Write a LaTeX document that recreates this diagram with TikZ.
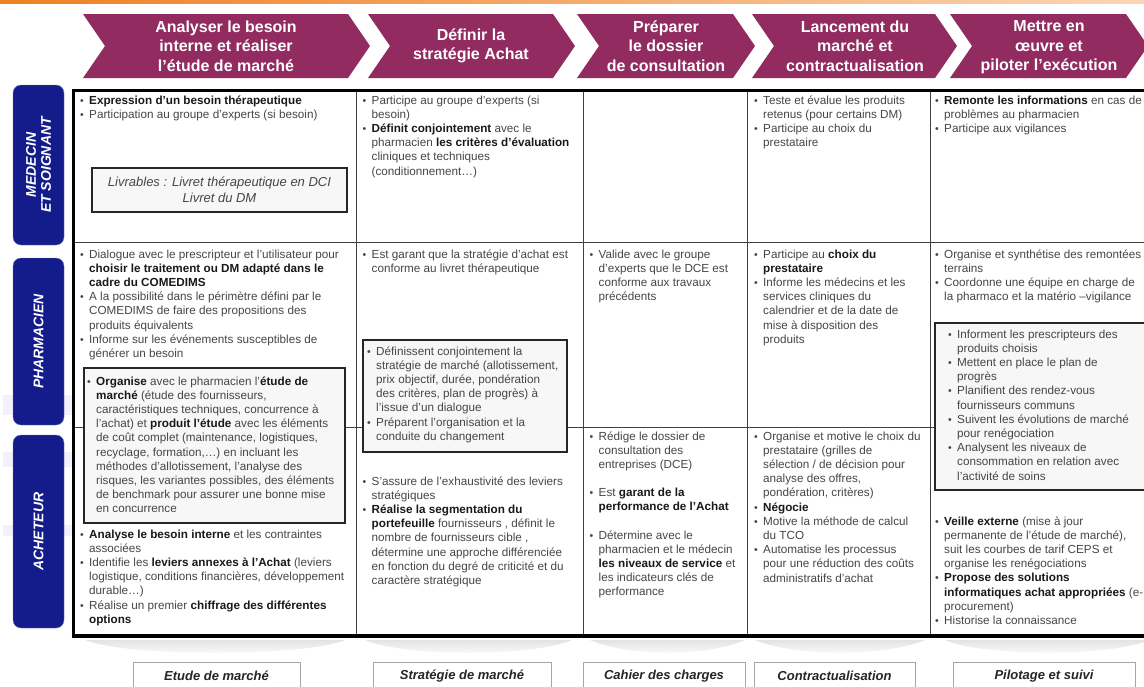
\documentclass[tikz,border=0pt]{standalone}
\usepackage{fontspec}
\setmainfont{Liberation Sans}
\usepackage{xcolor}
\usepackage{tikz}

\definecolor{etape}{RGB}{146,44,96}
\definecolor{acteur}{RGB}{20,28,140}
\definecolor{orangeline}{RGB}{238,128,36}
\definecolor{orangepale}{RGB}{250,214,180}
\definecolor{texte}{RGB}{70,70,70}

\newcommand{\blt}{\strut\makebox[9pt][l]{\scalebox{0.9}{\textbullet}}}
\newcommand{\ind}{\hspace*{9pt}}
\newcommand{\fort}[1]{\textbf{\color{black!90}#1}}

\tikzset{
  etapetext/.style={text=white, align=center, font=\bfseries\fontsize{16}{19.5}\selectfont},
  acteurbox/.style={rotate=90, fill=acteur, draw=acteur!60!white, rounded corners=8pt, minimum height=51pt,
    text=white, align=center, font=\bfseries\itshape\fontsize{14}{15}\selectfont},
  cell/.style={anchor=north west, inner sep=0pt, align=left, text=texte, font=\fontsize{11.7}{14.2}\selectfont},
  cadre/.style={draw=black!85, line width=2pt, fill=gray!6},
  grille/.style={draw=black!75, line width=0.9pt},
  bordure/.style={draw=black, line width=3pt},
  ombre/.style={top color=gray!22, bottom color=white, draw=none},
  bilan/.style={anchor=north, draw=gray!70, fill=white, minimum height=28pt, text=black!85,
    font=\bfseries\itshape\fontsize{13}{15}\selectfont}
}

\begin{document}
\begin{tikzpicture}[x=1pt,y=-1pt]
\useasboundingbox[fill=white] (0,0) rectangle (1144,686);
\shade[left color=orangeline, right color=orangepale] (0,0) rectangle (1144,3);
\fill[blue!5] (3,395) rectangle (72,415);
\fill[blue!5] (3,452) rectangle (72,467);
\fill[blue!5] (3,525) rectangle (72,536);

% etapes du processus
\foreach \l/\r in {83/348,368/553,577/733,752/935,950/1126}
  \fill[etape] (\l,14) -- (\r,14) -- (\r+22,46) -- (\r,78) -- (\l,78) -- (\l+22,46) -- cycle;
\node[etapetext] (analyser) at (226,46) {Analyser le besoin\\interne et réaliser\\l'étude de marché};
\node[etapetext] (definir) at (471,46) {Définir la\\stratégie Achat};
\node[etapetext] (preparer) at (666,46) {Préparer\\le dossier\\de consultation};
\node[etapetext] (lancement) at (855,46) {Lancement du\\marché et\\contractualisation};
\node[etapetext] (mettre) at (1049,47.5) {Mettre en\\œuvre et\\piloter l'exécution};

% acteurs
\node[acteurbox, minimum width=160pt] (medecin) at (38.5,165) {MEDECIN\\ET SOIGNANT};
\node[acteurbox, minimum width=167pt] (pharmacien) at (38.5,341.5) {PHARMACIEN};
\node[acteurbox, minimum width=193pt] (acheteur) at (38.5,531.5) {ACHETEUR};

% grille
\foreach \x in {356,583,747,930}
  \draw[grille] (\x,90) -- (\x,636);
\foreach \y in {242,427}
  \draw[grille] (73,\y) -- (1150,\y);
\draw[bordure] (1150,90) -- (73,90) -- (73,636);
\draw[bordure, line width=4pt] (71.5,636) -- (1150,636);

\draw[cadre] (84,368) rectangle (345,523);
\draw[cadre] (363,340) rectangle (567,452);
\draw[cadre] (935,323) rectangle (1152,490);
\node[cadre, minimum width=255pt, minimum height=44pt, align=center, text=texte,
  font=\itshape\fontsize{13}{16}\selectfont] (livrables) at (219.5,190)
  {Livrables : Livret thérapeutique en DCI\\Livret du DM};

% medecin et soignant
\node[cell] (med1) at (80,94) {\blt\fort{Expression d'un besoin thérapeutique}\\
  \blt Participation au groupe d'experts (si besoin)};
\node[cell] (med2) at (362.5,94) {\blt Participe au groupe d'experts (si\\
  \ind besoin)\\
  \blt\fort{Définit conjointement} avec le\\
  \ind pharmacien \fort{les critères d'évaluation}\\
  \ind cliniques et techniques\\
  \ind (conditionnement…)};
\node[cell] (med4) at (754,94) {\blt Teste et évalue les produits\\
  \ind retenus (pour certains DM)\\
  \blt Participe au choix du\\
  \ind prestataire};
\node[cell] (med5) at (935,94) {\blt\fort{Remonte les informations} en cas de\\
  \ind problèmes au pharmacien\\
  \blt Participe aux vigilances};

% pharmacien
\node[cell] (pha1) at (80,248) {\blt Dialogue avec le prescripteur et l'utilisateur pour\\
  \ind\fort{choisir le traitement ou DM adapté dans le}\\
  \ind\fort{cadre du COMEDIMS}\\
  \blt A la possibilité dans le périmètre défini par le\\
  \ind COMEDIMS de faire des propositions des\\
  \ind produits équivalents\\
  \blt Informe sur les événements susceptibles de\\
  \ind générer un besoin};
\node[cell] (pha2) at (362.5,248) {\blt Est garant que la stratégie d'achat est\\
  \ind conforme au livret thérapeutique};
\node[cell] (pha3) at (589.5,248) {\blt Valide avec le groupe\\
  \ind d'experts que le DCE est\\
  \ind conforme aux travaux\\
  \ind précédents};
\node[cell] (pha4) at (754,248) {\blt Participe au \fort{choix du}\\
  \ind\fort{prestataire}\\
  \blt Informe les médecins et les\\
  \ind services cliniques du\\
  \ind calendrier et de la date de\\
  \ind mise à disposition des\\
  \ind produits};
\node[cell] (pha5) at (935,248) {\blt Organise et synthétise des remontées\\
  \ind terrains\\
  \blt Coordonne une équipe en charge de\\
  \ind la pharmaco et la matério –vigilance};

% actions communes
\node[cell] (etude) at (87,375) {\blt\fort{Organise} avec le pharmacien l'\fort{étude de}\\
  \ind\fort{marché} (étude des fournisseurs,\\
  \ind caractéristiques techniques, concurrence à\\
  \ind l'achat) et \fort{produit l'étude} avec les éléments\\
  \ind de coût complet (maintenance, logistiques,\\
  \ind recyclage, formation,…) en incluant les\\
  \ind méthodes d'allotissement, l'analyse des\\
  \ind risques, les variantes possibles, des éléments\\
  \ind de benchmark pour assurer une bonne mise\\
  \ind en concurrence};
\node[cell] (strategie) at (367,345) {\blt Définissent conjointement la\\
  \ind stratégie de marché (allotissement,\\
  \ind prix objectif, durée, pondération\\
  \ind des critères, plan de progrès) à\\
  \ind l'issue d'un dialogue\\
  \blt Préparent l'organisation et la\\
  \ind conduite du changement};
\node[cell] (pilotage) at (948,328) {\blt Informent les prescripteurs des\\
  \ind produits choisis\\
  \blt Mettent en place le plan de\\
  \ind progrès\\
  \blt Planifient des rendez-vous\\
  \ind fournisseurs communs\\
  \blt Suivent les évolutions de marché\\
  \ind pour renégociation\\
  \blt Analysent les niveaux de\\
  \ind consommation en relation avec\\
  \ind l'activité de soins};

% acheteur
\node[cell] (ach1) at (80,528) {\blt\fort{Analyse le besoin interne} et les contraintes\\
  \ind associées\\
  \blt Identifie les \fort{leviers annexes à l'Achat} (leviers\\
  \ind logistique, conditions financières, développement\\
  \ind durable…)\\
  \blt Réalise un premier \fort{chiffrage des différentes}\\
  \ind\fort{options}};
\node[cell] (ach2) at (362.5,475) {\blt S'assure de l'exhaustivité des leviers\\
  \ind stratégiques\\
  \blt\fort{Réalise la segmentation du}\\
  \ind\fort{portefeuille} fournisseurs , définit le\\
  \ind nombre de fournisseurs cible ,\\
  \ind détermine une approche différenciée\\
  \ind en fonction du degré de criticité et du\\
  \ind caractère stratégique};
\node[cell] (ach3) at (589.5,430) {\blt Rédige le dossier de\\
  \ind consultation des\\
  \ind entreprises (DCE)\\[13.5pt]
  \blt Est \fort{garant de la}\\
  \ind\fort{performance de l'Achat}\\[14.5pt]
  \blt Détermine avec le\\
  \ind pharmacien et le médecin\\
  \ind\fort{les niveaux de service} et\\
  \ind les indicateurs clés de\\
  \ind performance};
\node[cell] (ach4) at (754,430) {\blt Organise et motive le choix du\\
  \ind prestataire (grilles de\\
  \ind sélection / de décision pour\\
  \ind analyse des offres,\\
  \ind pondération, critères)\\
  \blt\fort{Négocie}\\
  \blt Motive la méthode de calcul\\
  \ind du TCO\\
  \blt Automatise les processus\\
  \ind pour une réduction des coûts\\
  \ind administratifs d'achat};
\node[cell] (ach5) at (935,515) {\blt\fort{Veille externe} (mise à jour\\
  \ind permanente de l'étude de marché),\\
  \ind suit les courbes de tarif CEPS et\\
  \ind organise les renégociations\\
  \blt\fort{Propose des solutions}\\
  \ind\fort{informatiques achat appropriées} (e-\\
  \ind procurement)\\
  \blt Historise la connaissance};

% livrables
\foreach \a/\b in {85/345,365/572,590/745,755/925,945/1150}
  \shade[ombre] (\a,640) -- (\b,640) .. controls (\b-40,657) and (\a+40,657) .. cycle;
\node[bilan, minimum width=167pt] (etudemarche) at (216.5,662) {Etude de marché};
\node[bilan, minimum width=178pt] (strategiemarche) at (462,662) {Stratégie de marché};
\node[bilan, minimum width=162pt] (cahier) at (664,662) {Cahier des charges};
\node[bilan, minimum width=161pt] (contrat) at (834.5,662) {Contractualisation};
\node[bilan, minimum width=182pt] (suivi) at (1044,662) {Pilotage et suivi};
\end{tikzpicture}
\end{document}
